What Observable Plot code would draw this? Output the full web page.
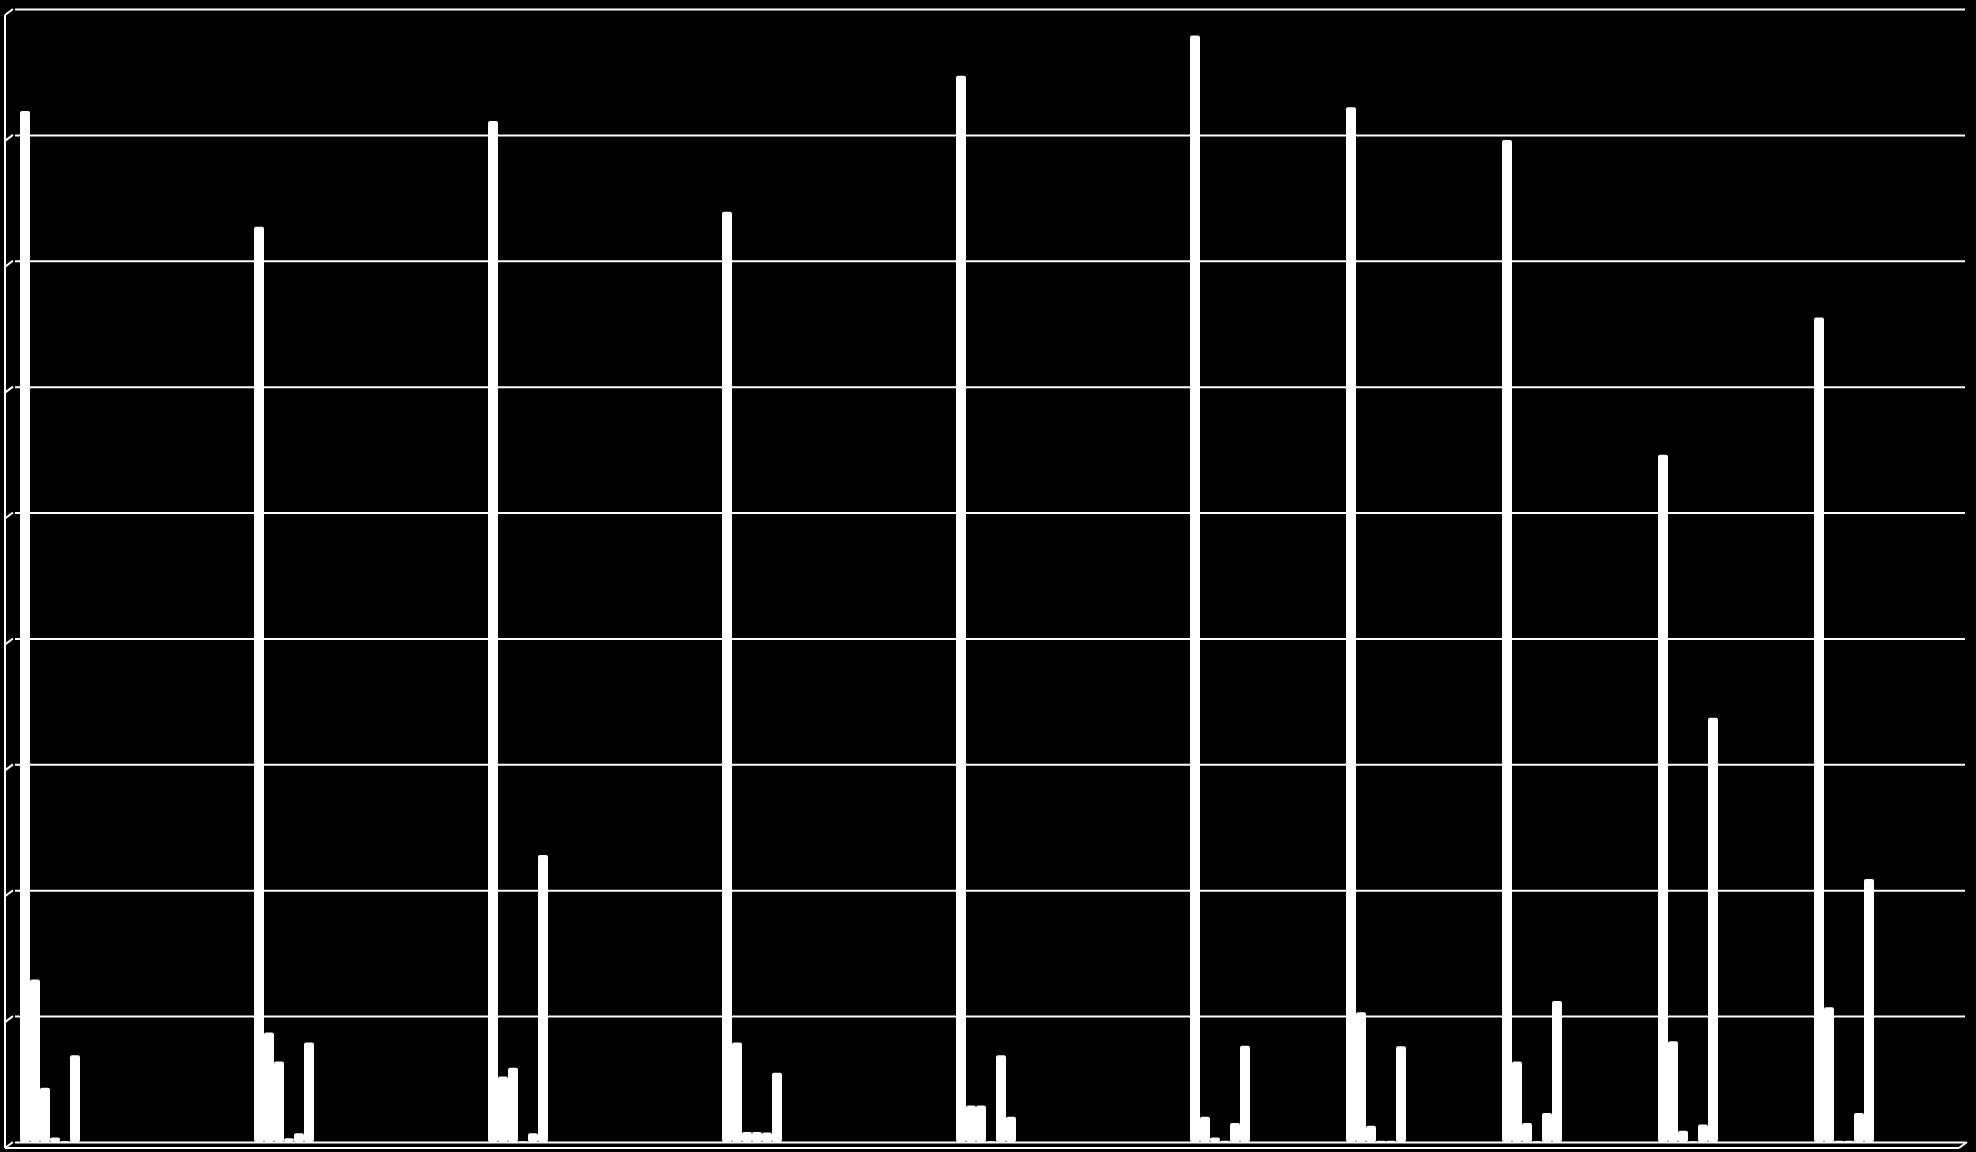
<!DOCTYPE html>
<html>
<head>
<meta charset="utf-8">
<script src="https://cdn.jsdelivr.net/npm/d3@7"></script>
<script src="https://cdn.jsdelivr.net/npm/@observablehq/plot@0.6"></script>
<style>
  html, body { margin: 0; padding: 0; background: #000; }
  #chart svg { display: block; }
</style>
</head>
<body>
<div id="chart"></div>
<script>
// Category slots along the (date-like) axis: 25 slots, 10 of them carry data
const categories = d3.range(1984, 2009);
const groupCategories = [1984, 1987, 1990, 1993, 1996, 1999, 2001, 2003, 2005, 2007];
const seriesNames = ["S1", "S2", "S3", "S4", "S5", "S6"];

// Series values (one value per data-carrying category), in gridline units x10
const s1 = [81.9, 72.7, 81.1, 73.9, 84.7, 87.9, 82.2, 79.6, 54.6, 65.5];
const s2 = [12.9, 8.7, 5.2, 7.9, 2.9, 2.0, 10.3, 6.4, 8.0, 10.7];
const s3 = [4.3, 6.4, 5.9, 0.8, 2.9, 0.35, 1.3, 1.5, 0.9, 0.1];
const s4 = [0.35, 0.3, 0.05, 0.8, 0.05, 0.1, 0.1, 0.05, 0.05, 0.1];
const s5 = [0.05, 0.7, 0.7, 0.75, 6.9, 1.5, 0.1, 2.3, 1.4, 2.3];
const s6 = [6.9, 7.9, 22.8, 5.5, 2.0, 7.65, 7.6, 11.2, 33.7, 20.9];
const yTicks = d3.range(0, 100, 10);

const seriesValues = [s1, s2, s3, s4, s5, s6];

// Long table: every slot x series (null where a slot has no data)
const table = [];
for (const cat of categories) {
  const gi = groupCategories.indexOf(cat);
  seriesNames.forEach((s, si) => {
    table.push({cat, series: s, value: gi >= 0 ? seriesValues[si][gi] : null});
  });
}

(function draw() {
  const chart = Plot.plot({
    width: 1976,
    height: 1152,
    marginTop: 9,
    marginBottom: 10,
    marginLeft: 13,
    marginRight: 9,
    style: {background: "#000", color: "#fff"},
    facet: {data: table, x: "cat"},
    fx: {domain: categories, padding: 0, axis: null, label: null},
    x: {domain: seriesNames, paddingInner: 0, paddingOuter: 0.7577, align: 0.3, axis: null},
    y: {domain: [0, 90], axis: null},
    marks: [
      Plot.ruleY(yTicks, {stroke: "#fff", strokeWidth: 2}),
      Plot.barY(table, {x: "series", y: "value", fill: "#fff", rx: 2})
    ]
  });

  document.getElementById("chart").append(chart);

  // 3-D wall / floor edges drawn from the plot's own y scale
  const yScale = chart.scale("y");
  const svg = d3.select(chart);
  const deco = svg.append("g").attr("stroke", "#fff").attr("stroke-width", 2).attr("fill", "none");
  const depthX = 8, depthY = 6;
  const backLeft = 13, frontLeft = 5, backRight = 1976 - 9;
  const yTop = yScale.apply(90), yBase = yScale.apply(0);
  deco.append("line").attr("x1", frontLeft).attr("x2", frontLeft)
    .attr("y1", yTop + depthY).attr("y2", yBase + depthY);
  for (const t of yTicks) {
    const yy = yScale.apply(t);
    deco.append("line").attr("x1", frontLeft).attr("y1", yy + depthY)
      .attr("x2", backLeft).attr("y2", yy);
  }
  deco.append("line").attr("x1", frontLeft).attr("x2", backRight - depthX)
    .attr("y1", yBase + depthY).attr("y2", yBase + depthY);
  deco.append("line").attr("x1", backRight - depthX).attr("y1", yBase + depthY)
    .attr("x2", backRight).attr("y2", yBase);
})();
</script>
</body>
</html>
